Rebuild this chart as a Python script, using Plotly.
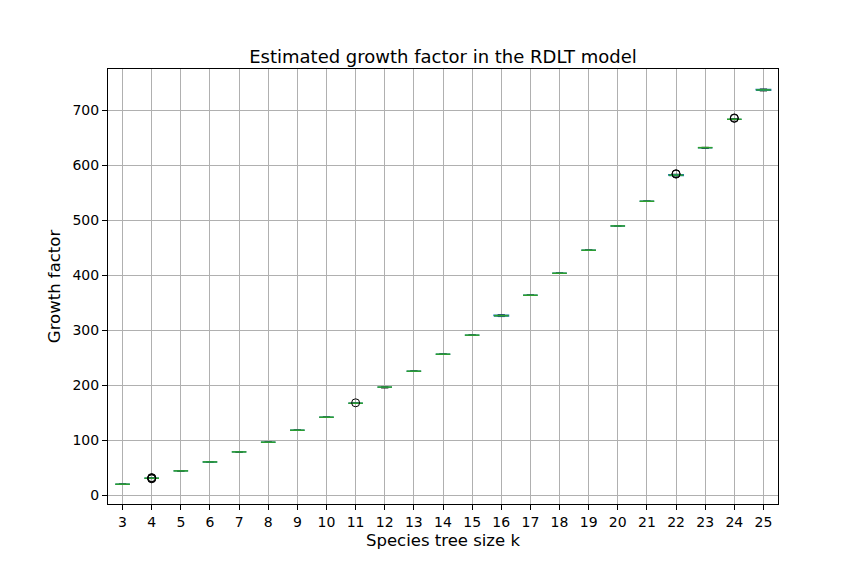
import plotly.graph_objects as go

# species tree sizes (one box per size)
sizes = list(range(3, 26))

# per-size statistics
medians = [20.0, 30.9, 44.2, 60.5, 78.7, 96.4, 118.2, 141.8, 167.3, 196.6, 225.5, 256.4,
           291.0, 326.5, 363.6, 403.6, 445.5, 489.6, 534.5, 582.0, 632.0, 683.6, 737.0]
q1 = [20.0, 30.8, 44.2, 60.5, 78.7, 96.4, 118.2, 141.8, 167.3, 196.5, 225.5, 256.4,
      291.0, 325.6, 363.6, 403.6, 445.5, 489.6, 534.5, 581.1, 631.9, 683.4, 736.1]
q3 = [20.0, 31.0, 44.2, 60.5, 78.7, 96.4, 118.2, 141.8, 167.3, 196.7, 225.5, 256.4,
      291.0, 327.4, 363.6, 403.6, 445.5, 489.6, 534.5, 582.9, 632.1, 683.8, 737.9]
whisker_lo = [20.0, 30.6, 44.2, 60.5, 78.7, 96.4, 118.2, 141.8, 167.3, 195.4, 225.5, 256.4,
              291.0, 325.2, 363.6, 403.6, 445.5, 489.6, 534.5, 580.8, 631.0, 683.0, 735.6]
whisker_hi = [20.0, 31.2, 44.2, 60.5, 78.7, 96.4, 118.2, 141.8, 167.3, 196.8, 225.5, 256.4,
              291.0, 327.8, 363.6, 403.6, 445.5, 489.6, 534.5, 583.2, 632.2, 684.2, 738.2]
flier_size = [4, 4, 4, 4, 11, 22, 22, 24, 24]
flier_value = [29.8, 30.6, 31.4, 32.0, 168.0, 583.8, 584.6, 685.2, 686.0]

half = 0.25
cap_half = 0.125

box_x, box_y = [], []
wh_x, wh_y = [], []
cap_x, cap_y = [], []
med_x, med_y = [], []
for k, m, a, b, lo, hi in zip(sizes, medians, q1, q3, whisker_lo, whisker_hi):
    box_x += [k - half, k + half, k + half, k - half, k - half, None]
    box_y += [a, a, b, b, a, None]
    wh_x += [k, k, None, k, k, None]
    wh_y += [a, lo, None, b, hi, None]
    cap_x += [k - cap_half, k + cap_half, None, k - cap_half, k + cap_half, None]
    cap_y += [lo, lo, None, hi, hi, None]
    med_x += [k - half, k + half, None]
    med_y += [m, m, None]

fig = go.Figure()
fig.add_trace(go.Scatter(x=wh_x, y=wh_y, mode='lines', line=dict(color='#1f77b4', width=1.4),
                         hoverinfo='skip'))
fig.add_trace(go.Scatter(x=cap_x, y=cap_y, mode='lines', line=dict(color='black', width=1.4),
                         hoverinfo='skip'))
fig.add_trace(go.Scatter(x=box_x, y=box_y, mode='lines', line=dict(color='#1f77b4', width=1.4),
                         hoverinfo='skip'))
fig.add_trace(go.Scatter(x=med_x, y=med_y, mode='lines', line=dict(color='#2ca02c', width=1.5),
                         hoverinfo='skip'))
fig.add_trace(go.Scatter(x=flier_size, y=flier_value, mode='markers',
                         marker=dict(symbol='circle-open', size=8, color='black',
                                     line=dict(width=1.0))))

axis_style = dict(
    showline=True, linecolor='black', linewidth=1.1, mirror=True,
    showgrid=True, gridcolor='#b0b0b0', gridwidth=1.1, zeroline=False,
    ticks='outside', ticklen=5, tickcolor='black', tickwidth=1.1,
    tickfont=dict(size=14, color='black'),
)

# page body adds an 8px offset, so margins are shifted to compensate
fig.update_layout(
    width=864, height=576,
    margin=dict(l=100, r=94, t=61, b=80),
    paper_bgcolor='white', plot_bgcolor='white',
    font=dict(family='DejaVu Sans', color='black'),
    showlegend=False,
    title=dict(text='Estimated growth factor in the RDLT model', font=dict(size=18),
               x=0.5, xref='paper', xanchor='center', y=0.915, yref='container', yanchor='middle'),
)
fig.update_xaxes(axis_style, range=[2.5, 25.5], tickmode='array', tickvals=sizes,
                 ticktext=[str(k) for k in sizes],
                 title=dict(text='Species tree size k', font=dict(size=16.5), standoff=5))
fig.update_yaxes(axis_style, range=[-16, 775], tickvals=[0, 100, 200, 300, 400, 500, 600, 700],
                 title=dict(text='Growth factor', font=dict(size=16.5), standoff=7))

fig.write_html("out.html")
